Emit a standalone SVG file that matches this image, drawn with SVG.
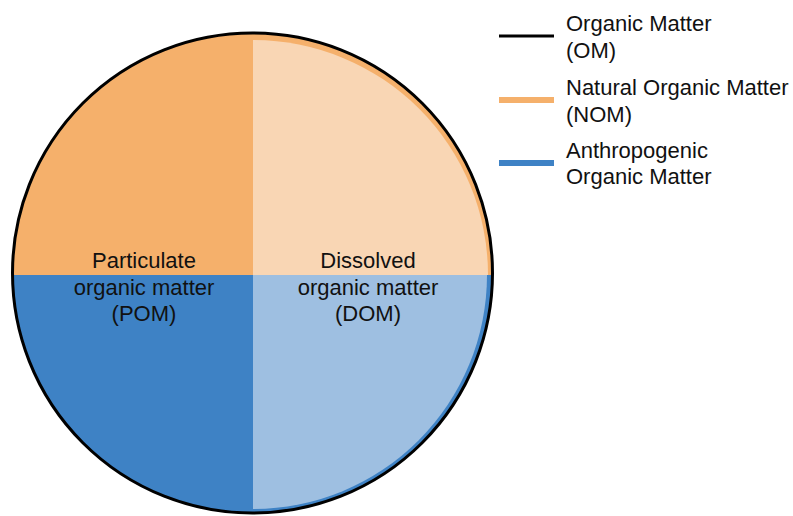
<svg xmlns="http://www.w3.org/2000/svg" width="793" height="516" viewBox="0 0 793 516">
<style>
text{font-family:"Liberation Sans",Arial,sans-serif;font-size:22px;fill:#111}
.c{text-anchor:middle}
.leg{stroke-width:6;fill:none}
</style>
<defs>
<clipPath id="disc"><circle cx="252.5" cy="273" r="240"/></clipPath>
</defs>
<rect width="793" height="516" fill="#fff"/>
<g id="pie">
<g clip-path="url(#disc)">
<rect id="nom-half" x="0" y="0" width="520" height="275" fill="#F5B06B"/>
<rect id="aom-half" x="0" y="275" width="520" height="260" fill="#3E82C5"/>
<path id="dom-nom" d="M253,275 L253,40 A235,235 0 0 1 488,275 Z" fill="#F9D6B4"/>
<path id="dom-aom" d="M253,275 L487,275 A234,234 0 0 1 253,509 Z" fill="#9EBFE1"/>
</g>
<circle id="om" cx="252.5" cy="273" r="240" fill="none" stroke="#000" stroke-width="3"/>
</g>
<g id="pom-label">
<text class="c" x="144" y="268">Particulate</text>
<text class="c" x="144" y="295">organic matter</text>
<text class="c" x="144" y="321">(POM)</text>
</g>
<g id="dom-label">
<text class="c" x="368" y="268">Dissolved</text>
<text class="c" x="368" y="295">organic matter</text>
<text class="c" x="368" y="321">(DOM)</text>
</g>
<g id="legend">
<line x1="499" y1="36" x2="554" y2="36" stroke="#000" stroke-width="3"/>
<line class="leg" x1="499" y1="100" x2="554" y2="100" stroke="#F5B06B"/>
<line class="leg" x1="499" y1="163" x2="554" y2="163" stroke="#3E82C5"/>
<text x="566" y="31">Organic Matter</text>
<text x="566" y="58">(OM)</text>
<text x="566" y="95">Natural Organic Matter</text>
<text x="566" y="122">(NOM)</text>
<text x="566" y="158">Anthropogenic</text>
<text x="566" y="184">Organic Matter</text>
</g>
</svg>
